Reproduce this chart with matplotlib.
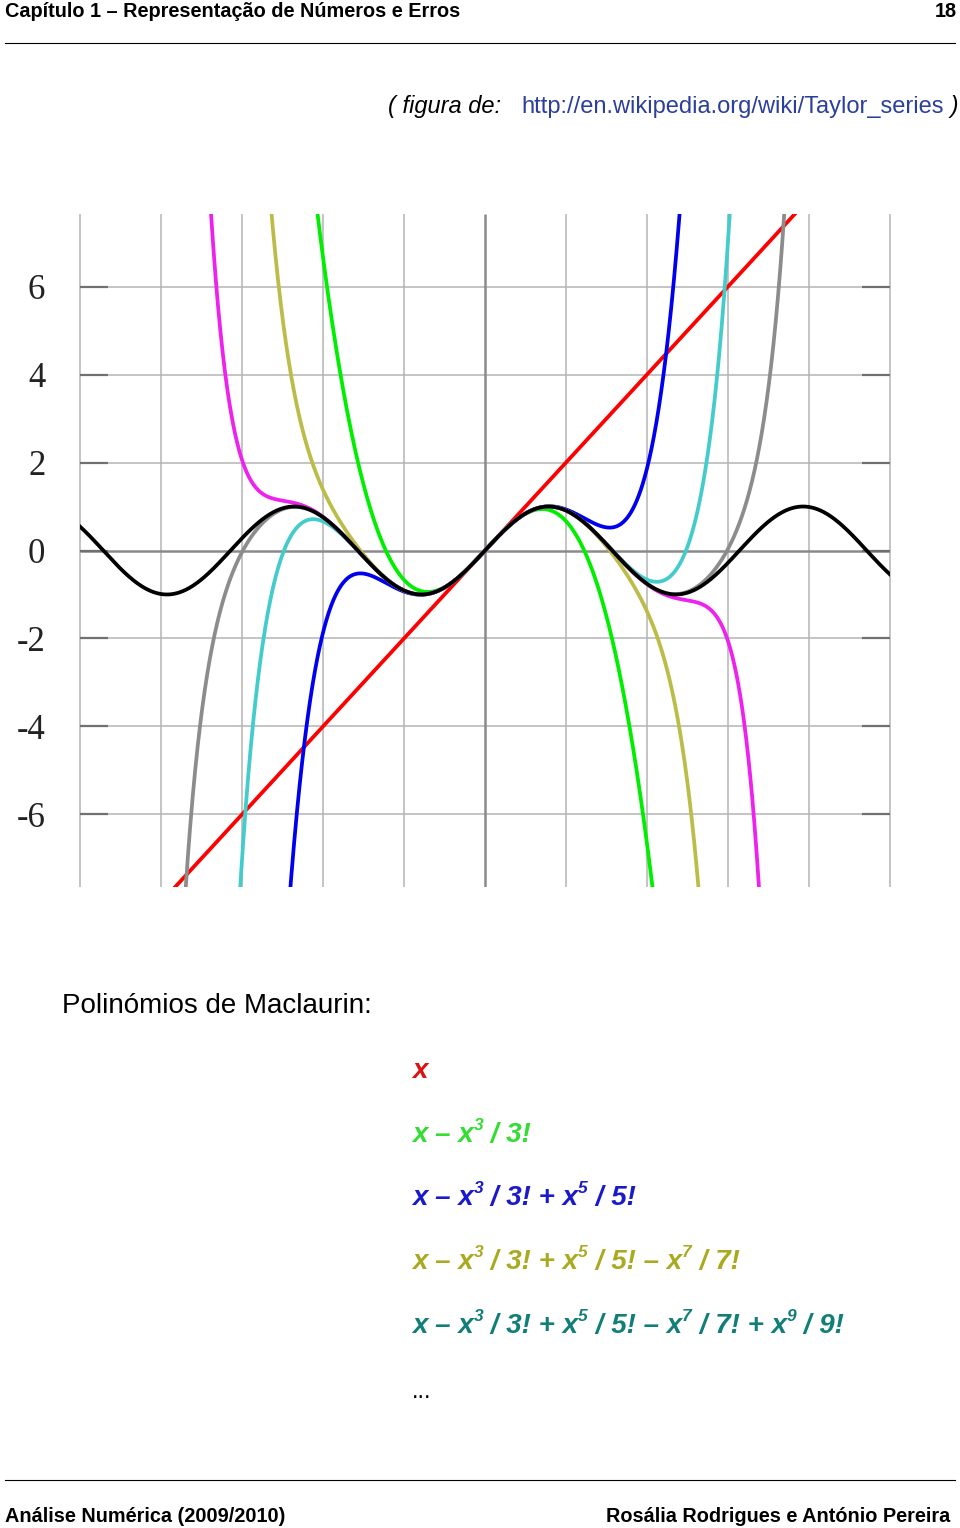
import math
import numpy as np
import matplotlib
matplotlib.use("Agg")
import matplotlib.pyplot as plt

# Taylor (Maclaurin) polynomials of sin x drawn in the figure
degrees = [1, 3, 5, 7, 9, 11, 13]
curve_colors = ['#ff0000', '#00ee00', '#0000ee', '#bcbc48', '#44cccc', '#ee22ee', '#8c8c8c']
x_grid = [-10, -8, -6, -4, -2, 0, 2, 4, 6, 8, 10]
y_ticks = [-6, -4, -2, 0, 2, 4, 6]
y_labels = ['-6', '-4', '-2', '0', '2', '4', '6']

header_left = 'Capítulo 1 – Representação de Números e Erros'
header_right = '18'
footer_left = 'Análise Numérica (2009/2010)'
footer_right = 'Rosália Rodrigues e António Pereira'
caption = 'Polinómios de Maclaurin:'
url = 'http://en.wikipedia.org/wiki/Taylor_series'

# each formula: list of (text, superscript?)
formulas = [
    [('x', 0)],
    [('x – x', 0), ('3', 1), (' / 3!', 0)],
    [('x – x', 0), ('3', 1), (' / 3! + x', 0), ('5', 1), (' / 5!', 0)],
    [('x – x', 0), ('3', 1), (' / 3! + x', 0), ('5', 1), (' / 5! – x', 0), ('7', 1), (' / 7!', 0)],
    [('x – x', 0), ('3', 1), (' / 3! + x', 0), ('5', 1), (' / 5! – x', 0), ('7', 1),
     (' / 7! + x', 0), ('9', 1), (' / 9!', 0)],
]
formula_colors = ['#dd1111', '#33dd33', '#1a1acc', '#aaaa22', '#117f77']

SANS = 'Liberation Sans'
SERIF = 'Liberation Serif'

fig = plt.figure(figsize=(9.6, 15.28), dpi=100)

# ---------------- chart ----------------
ax = fig.add_axes([80/960, 1 - 887/1528, 810/960, 673/1528])
ax.set_xlim(-10, 10)
ax.set_ylim(-7.65, 7.65)
for s in ax.spines.values():
    s.set_visible(False)
ax.set_xticks([])
ax.set_yticks(y_ticks, y_labels)
ax.tick_params(axis='y', direction='in', length=20, width=1.6, color='#707070',
               left=True, right=True, pad=25, labelsize=25, labelcolor='#222222')
for lab in ax.get_yticklabels():
    lab.set_fontfamily(SERIF)

gx = [v for v in x_grid if v != 0]
gy = [v for v in y_ticks if v != 0]
ax.vlines(gx, -7.65, 7.65, color='#b4b4b4', lw=1.1, clip_on=False, zorder=1)
ax.hlines(gy, -10, 10, color='#b4b4b4', lw=1.1, zorder=1)
ax.vlines([0], -7.65, 7.65, color='#8a8a8a', lw=1.8, zorder=1)
ax.hlines([0], -10, 10, color='#8a8a8a', lw=1.8, zorder=1)

xs = np.linspace(-10, 10, 4001)
for deg, c in zip(degrees, curve_colors):
    ys = np.zeros_like(xs)
    for k in range(1, deg + 1, 2):
        sign = -1 if (k // 2) % 2 else 1
        ys += sign * xs**k / math.factorial(k)
    ax.plot(xs, ys, color=c, lw=2.7, zorder=2, solid_capstyle='butt')
ax.plot(xs, np.sin(xs), color='black', lw=2.7, zorder=3)

# ---------------- page text ----------------
page = fig.add_axes([0, 0, 1, 1], zorder=-1)
page.set_xlim(0, 960)
page.set_ylim(1528, 0)
page.axis('off')

renderer = fig.canvas.get_renderer()


def text_width(s, **kw):
    a = page.text(0, 0, '|' + s + '|', **kw)
    b = page.text(0, 0, '||', **kw)
    w = a.get_window_extent(renderer).width - b.get_window_extent(renderer).width
    a.remove()
    b.remove()
    return w


def draw_pieces(x, y, pieces, align='left'):
    # pieces: (text, dict of text kwargs, rise)
    widths = [text_width(t, **kw) for t, kw, r in pieces]
    if align == 'right':
        x -= sum(widths)
    for (t, kw, r), w in zip(pieces, widths):
        page.text(x, y - r, t, va='baseline', ha='left', **kw)
        x += w


page.text(5, 17, header_left, fontfamily=SANS, fontweight='bold', fontsize=14.3,
          va='baseline', ha='left')
page.text(957, 17, header_right, fontfamily=SANS, fontweight='bold', fontsize=14.3,
          va='baseline', ha='right')
page.plot([5, 955], [43, 43], color='black', lw=0.8)

it = dict(fontfamily=SANS, fontstyle='italic', fontsize=17, color='black')
up = dict(fontfamily=SANS, fontsize=17, color='#2b3f9c')
draw_pieces(958, 113, [('( figura de:   ', it, 0), (url, up, 0), (' )', it, 0)],
            align='right')

page.text(62, 1013, caption, fontfamily=SANS, fontsize=20, va='baseline', ha='left')

base_y = [1078, 1142, 1205, 1269, 1333]
for f, c, yb in zip(formulas, formula_colors, base_y):
    pieces = []
    for t, sup in f:
        kw = dict(fontfamily=SANS, fontstyle='italic', fontweight='bold',
                  fontsize=12.5 if sup else 20, color=c)
        pieces.append((t, kw, 12 if sup else 0))
    draw_pieces(412, yb, pieces)
page.text(412, 1398, '...', fontfamily=SANS, fontsize=17, va='baseline', ha='left')

page.plot([5, 955], [1480, 1480], color='black', lw=0.8)
page.text(5, 1522, footer_left, fontfamily=SANS, fontweight='bold', fontsize=14.3,
          va='baseline', ha='left')
page.text(950, 1522, footer_right, fontfamily=SANS, fontweight='bold', fontsize=14.3,
          va='baseline', ha='right')

fig.savefig('out.png', dpi=100)
